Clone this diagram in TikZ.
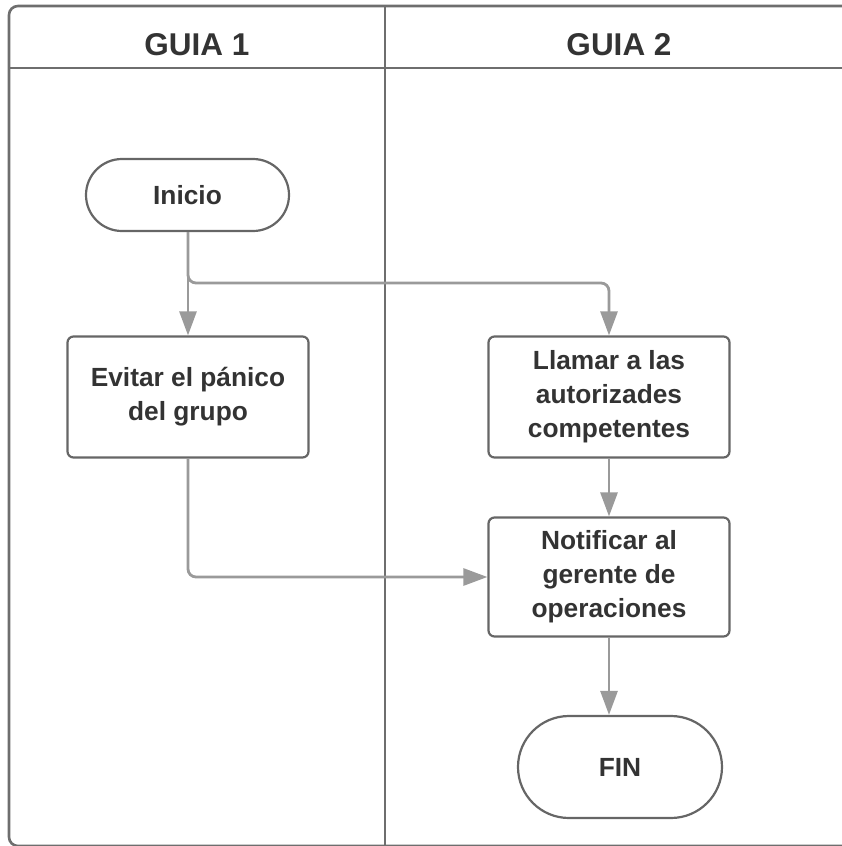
\documentclass[tikz,border=0pt]{standalone}
\usepackage{fontspec}
\setmainfont{Liberation Sans}
\usetikzlibrary{arrows.meta,shapes.misc}
\definecolor{laneline}{HTML}{6E6E6E}
\definecolor{boxline}{HTML}{666666}
\definecolor{flowline}{HTML}{9A9A9A}
\definecolor{txt}{HTML}{333333}
\begin{document}
\begin{tikzpicture}[x=1pt,y=-1pt,
  lane/.style={draw=laneline, line width=2.6pt},
  header/.style={font=\fontsize{31.5}{36}\selectfont\bfseries, text=txt, inner sep=0pt},
  proc/.style={draw=boxline, line width=2.2pt, rounded corners=6pt,
    minimum width=241pt, minimum height=121pt, align=center, inner sep=0pt,
    font=\fontsize{26.3}{34}\selectfont\bfseries, text=txt},
  term/.style={draw=boxline, line width=2.2pt, rounded rectangle, inner sep=0pt,
    font=\fontsize{26.3}{34}\selectfont\bfseries, text=txt},
  flow/.style={draw=flowline, line width=2.8pt,
    -{Triangle[length=24pt,width=17pt]}, rounded corners=8pt}]
\useasboundingbox (0,0) rectangle (841,846);

% swimlane frame
\draw[lane, rounded corners=9pt] (845,846) -- (9,846) -- (9,6) -- (845,6);
\draw[lane] (9,68) -- (845,68);
\draw[lane] (385,6) -- (385,846);

% lane titles
\node[header] (h1) at (197,45) {GUIA 1};
\node[header] (h2) at (619,45) {GUIA 2};

% steps
\node[term, minimum width=203pt, minimum height=72pt] (ini) at (187.5,195) {Inicio};
\node[proc] (evi) at (188,397) {Evitar el pánico\\del grupo};
\node[proc] (lla) at (609,397) {Llamar a las\\autorizades\\competentes};
\node[proc, minimum height=119pt] (noti) at (609,577) {Notificar al\\gerente de\\operaciones};
\node[term, minimum width=204pt, minimum height=102pt] (fin) at (620,767) {FIN};

\coordinate (split) at (0,283);

% connectors
\draw[flow] (evi.north |- ini.south) -- (evi.north);
\draw[flow] (evi.north |- ini.south) |- (lla.north |- split) -- (lla.north);
\draw[flow] (lla.south) -- (noti.north);
\draw[flow] (evi.south) |- (noti.west);
\draw[flow] (noti.south) -- (noti.south |- fin.north);
\end{tikzpicture}
\end{document}
